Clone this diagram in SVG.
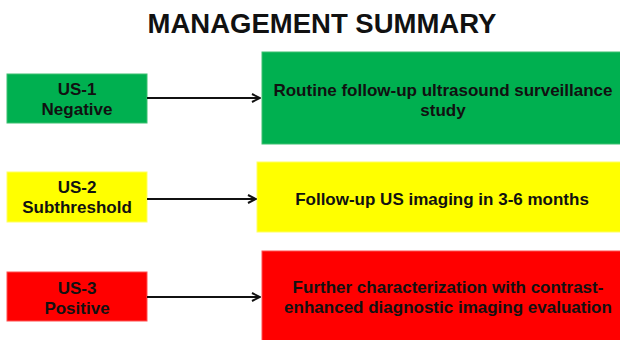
<svg xmlns="http://www.w3.org/2000/svg" width="620" height="340" viewBox="0 0 620 340">
<style>
text{font-family:"Liberation Sans",Arial,sans-serif;font-weight:bold;fill:#111;text-anchor:middle}
.t{font-size:27.5px}
.l{font-size:17px}
.g{fill:#00B050;stroke:#3cc070;stroke-width:1}
.y{fill:#FFFF00;stroke:#ffff60;stroke-width:1}
.r{fill:#FF0000;stroke:#ff5050;stroke-width:1}
.c{stroke:#111;stroke-width:2;fill:none}
</style>
<defs>
<marker id="ah" viewBox="0 0 10 10" refX="9" refY="5" markerWidth="5" markerHeight="5" orient="auto" markerUnits="strokeWidth">
<path d="M1,1 L9,5 L1,9" fill="none" stroke="#111" stroke-width="2"/>
</marker>
</defs>
<rect width="620" height="340" fill="#fff"/>
<text class="t" x="322" y="33">MANAGEMENT SUMMARY</text>
<g id="us1">
<rect class="g" x="7" y="74" width="140" height="49"/>
<text class="l" x="77" y="95">US-1</text>
<text class="l" x="77" y="115">Negative</text>
</g>
<g id="out1">
<rect class="g" x="262" y="52" width="362" height="92"/>
<text class="l" x="443" y="96">Routine follow-up ultrasound surveillance</text>
<text class="l" x="443" y="116">study</text>
</g>
<g id="us2">
<rect class="y" x="7" y="172" width="140" height="50"/>
<text class="l" x="77" y="193">US-2</text>
<text class="l" x="77" y="213">Subthreshold</text>
</g>
<g id="out2">
<rect class="y" x="257" y="162" width="367" height="70"/>
<text class="l" x="442" y="205">Follow-up US imaging in 3-6 months</text>
</g>
<g id="us3">
<rect class="r" x="7" y="272" width="140" height="49"/>
<text class="l" x="77" y="294">US-3</text>
<text class="l" x="77" y="314">Positive</text>
</g>
<g id="out3">
<rect class="r" x="262" y="251" width="362" height="95"/>
<text class="l" x="448" y="293">Further characterization with contrast-</text>
<text class="l" x="448" y="313">enhanced diagnostic imaging evaluation</text>
</g>
<g id="connectors">
<line class="c" x1="147" y1="98" x2="260" y2="98" marker-end="url(#ah)"/>
<line class="c" x1="147" y1="199" x2="256" y2="199" marker-end="url(#ah)"/>
<line class="c" x1="147" y1="297" x2="260" y2="297" marker-end="url(#ah)"/>
</g>
</svg>
